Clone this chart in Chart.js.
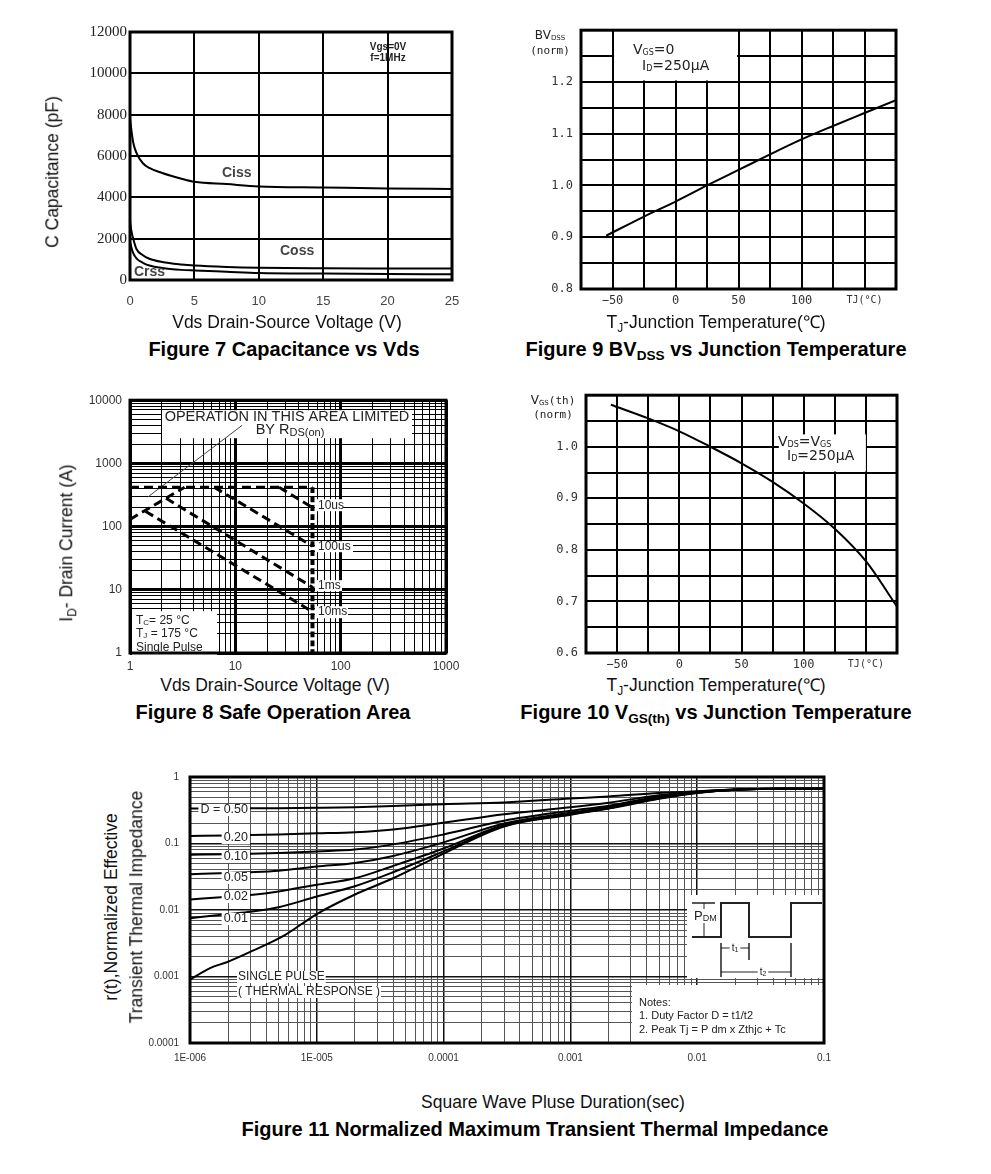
<!DOCTYPE html>
<html>
<head>
<meta charset="utf-8">
<script src="https://cdn.jsdelivr.net/npm/chart.js@4.4.1/dist/chart.umd.min.js"></script>
<style>
  body { margin: 0; background: #fff; width: 991px; height: 1174px; position: relative; overflow: hidden;
         font-family: "Liberation Sans", Arial, sans-serif; color: #000; }
  canvas { position: absolute; }
  .t { position: absolute; white-space: nowrap; line-height: 1; }
  .fig { font-weight: bold; font-size: 20px; transform: translateX(-50%); }
  .ax { font-size: 17.5px; transform: translateX(-50%); color: #111; }
  .rot { font-size: 17.5px; transform: translate(-50%, -50%) rotate(-90deg); color: #111; }
  sub { font-size: 68%; vertical-align: -0.3em; line-height: 0; }
</style>
</head>
<body>
<canvas id="c7"></canvas>
<canvas id="c9"></canvas>
<canvas id="c8"></canvas>
<canvas id="c10"></canvas>
<canvas id="c11"></canvas>

<div class="t fig" style="left:284px;top:339px">Figure 7 Capacitance vs Vds</div>
<div class="t fig" style="left:716px;top:339px">Figure 9 BV<sub>DSS</sub> vs Junction Temperature</div>
<div class="t fig" style="left:273px;top:702px">Figure 8 Safe Operation Area</div>
<div class="t fig" style="left:716px;top:702px">Figure 10 V<sub>GS(th)</sub> vs Junction Temperature</div>
<div class="t fig" style="left:535px;top:1119px">Figure 11 Normalized Maximum Transient Thermal Impedance</div>

<div class="t ax" style="left:287px;top:314px">Vds Drain-Source Voltage (V)</div>
<div class="t ax" style="left:716px;top:314px">T<sub>J</sub>-Junction Temperature(℃)</div>
<div class="t ax" style="left:275px;top:677px">Vds Drain-Source Voltage (V)</div>
<div class="t ax" style="left:716px;top:677px">T<sub>J</sub>-Junction Temperature(℃)</div>
<div class="t ax" style="left:553px;top:1094px">Square Wave Pluse Duration(sec)</div>

<div class="t rot" style="left:53px;top:172px">C Capacitance (pF)</div>
<div class="t rot" style="left:67px;top:543px">I<sub>D</sub>- Drain Current (A)</div>
<div class="t rot" style="left:112px;top:907px">r(t),Normalized Effective</div>
<div class="t rot" style="left:137px;top:907px">Transient Thermal Impedance</div>

<script>
// ---------- data ----------
// Fig 7: capacitance vs Vds
const capV = [0, 0.1, 0.25, 0.5, 1, 1.5, 2.5, 4, 5, 7.5, 10, 15, 20, 25];
const ciss = [7800, 7300, 6650, 6150, 5650, 5420, 5180, 4900, 4750, 4640, 4530, 4480, 4430, 4400];
const coss = [2850, 2400, 2000, 1500, 1200, 1030, 870, 750, 700, 630, 590, 565, 560, 560];
const crss = [1850, 1600, 1300, 1050, 830, 700, 580, 490, 460, 400, 340, 310, 290, 280];

// Fig 8: safe operating area (V, A)
const soaRdsV = [1, 3.3],      soaRdsI = [130, 420];
const soaTopV = [1, 54],       soaTopI = [420, 420];
const soaEdgeV = [54, 54],     soaEdgeI = [420, 1];
const soa10usV = [26, 54],     soa10usI = [420, 200];
const soa100usV = [6.3, 54],   soa100usI = [420, 49];
const soa1msV = [2.2, 54],     soa1msI = [280, 11];
const soa10msV = [1.4, 54],    soa10msI = [175, 4.5];
const soaPointerV = [1.48, 11.6], soaPointerI = [295, 4000];
const soaXLabels = ['1', '10', '100', '1000'];
const soaYLabels = ['1', '10', '100', '1000', '10000'];

// Fig 9 / Fig 10: normalised values vs junction temperature
const tempC = [-55, -25, 0, 25, 50, 75, 100, 125, 150, 175];
const bvdssNorm = [0.903, 0.94, 0.969, 1.0, 1.03, 1.06, 1.089, 1.115, 1.14, 1.165];
const vthNorm = [1.0815, 1.055, 1.03, 1.0, 0.968, 0.932, 0.89, 0.841, 0.778, 0.69];
const tempXLabels = { '-50': '\u221250', '0': '0', '50': '50', '100': '100', '150': 'TJ(\u00b0C)' };

// Fig 11: transient thermal impedance
const thermT = [1e-6, 2e-6, 3e-6, 5e-6, 1e-5, 2e-5, 4e-5, 1e-4, 3e-4, 1e-3, 2e-3, 5e-3, 1e-2, 2e-2, 5e-2, 1e-1];
const zthD50 = [0.337, 0.337, 0.338, 0.34, 0.345, 0.352, 0.365, 0.39, 0.415, 0.475, 0.51, 0.575, 0.61, 0.65, 0.665, 0.665];
const zthD20 = [0.130, 0.132, 0.134, 0.137, 0.142, 0.148, 0.163, 0.205, 0.275, 0.35, 0.41, 0.53, 0.6, 0.65, 0.665, 0.665];
const zthD10 = [0.068, 0.069, 0.07, 0.072, 0.076, 0.081, 0.097, 0.137, 0.22, 0.31, 0.37, 0.51, 0.595, 0.648, 0.665, 0.665];
const zthD05 = [0.0346, 0.036, 0.037, 0.039, 0.045, 0.051, 0.065, 0.104, 0.2, 0.29, 0.355, 0.5, 0.59, 0.645, 0.665, 0.665];
const zthD02 = [0.0144, 0.0158, 0.0168, 0.019, 0.024, 0.030, 0.046, 0.084, 0.19, 0.28, 0.345, 0.49, 0.585, 0.645, 0.665, 0.665];
const zthD01 = [0.0075, 0.0087, 0.0094, 0.011, 0.016, 0.0228, 0.037, 0.076, 0.185, 0.275, 0.34, 0.48, 0.58, 0.645, 0.665, 0.665];
const singleT = [1e-6, 1.44e-6, 1.95e-6, 3.06e-6, 5.6e-6, 1e-5, 2e-5, 4e-5, 1e-4, 3e-4, 1e-3, 2e-3, 5e-3, 1e-2, 2e-2, 5e-2, 1e-1];
const zthSingle = [0.0009, 0.00134, 0.00164, 0.0024, 0.0042, 0.0087, 0.0171, 0.030, 0.0706, 0.18, 0.27, 0.335, 0.47, 0.575, 0.645, 0.665, 0.665];
const thermXLabels = ['1E-006', '1E-005', '0.0001', '0.001', '0.01', '0.1'];
const thermYLabels = ['0.0001', '0.001', '0.01', '0.1', '1'];

// ---------- helpers ----------
const SANS = '"Liberation Sans", Arial, sans-serif';
const MONO = '"DejaVu Sans Mono", monospace';
const DJV = '"DejaVu Sans", sans-serif';
Chart.defaults.font.family = SANS;

const pts = (xs, ys) => xs.map((x, i) => ({ x, y: ys[i] }));
const isDecade = v => Math.abs(Math.log10(v) - Math.round(Math.log10(v))) < 1e-9;

function logTicks(min, max) {
  const out = [];
  for (let e = Math.round(Math.log10(min)); e < Math.round(Math.log10(max)); e++) {
    for (let m = 1; m < 10; m++) out.push({ value: m * Math.pow(10, e) });
  }
  out.push({ value: max });
  return out;
}

function P(t, size, dy, family, bold) {
  return { t, f: (bold ? 'bold ' : '') + size + 'px ' + (family || SANS), dy: dy || 0 };
}

// draws a run of text pieces (for subscripts); bg = [padX, halfH] paints white behind it
function rich(ctx, x, y, parts, align, color, bg) {
  ctx.textBaseline = 'middle';
  ctx.textAlign = 'left';
  let w = 0;
  parts.forEach(p => { ctx.font = p.f; w += ctx.measureText(p.t).width; });
  let cx = align === 'center' ? x - w / 2 : align === 'right' ? x - w : x;
  if (bg) {
    ctx.fillStyle = '#fff';
    ctx.fillRect(cx - bg[0], y - bg[1], w + 2 * bg[0], 2 * bg[1]);
  }
  ctx.fillStyle = color || '#222';
  parts.forEach(p => {
    ctx.font = p.f;
    ctx.fillText(p.t, cx, y + p.dy);
    cx += ctx.measureText(p.t).width;
  });
}

function line(ctx, x1, y1, x2, y2, w) {
  ctx.lineWidth = w || 1;
  ctx.beginPath(); ctx.moveTo(x1, y1); ctx.lineTo(x2, y2); ctx.stroke();
}

// plugin: white boxes over the grid, frame, then labels on top of the curves
function deco(frameW, under, over) {
  return {
    id: 'deco',
    beforeDatasetsDraw(chart) {
      const { ctx, chartArea: a } = chart;
      ctx.save();
      if (under) under(ctx, a, chart);
      ctx.strokeStyle = '#000';
      ctx.lineWidth = frameW;
      ctx.strokeRect(a.left, a.top, a.right - a.left, a.bottom - a.top);
      ctx.restore();
    },
    afterDatasetsDraw(chart) {
      if (!over) return;
      const { ctx, chartArea: a } = chart;
      ctx.save();
      over(ctx, a, chart);
      ctx.restore();
    }
  };
}

function makeChart(id, box, area, cfg) {
  const cv = document.getElementById(id);
  cv.width = box.w; cv.height = box.h;
  cv.style.left = box.x + 'px'; cv.style.top = box.y + 'px';
  cv.style.width = box.w + 'px'; cv.style.height = box.h + 'px';
  const o = cfg.options;
  o.responsive = false;
  o.animation = false;
  o.layout = { padding: { left: 0, top: area.t - box.y, right: box.x + box.w - area.r, bottom: 0 } };
  o.plugins = { legend: { display: false }, tooltip: { enabled: false } };
  o.scales.x.afterFit = s => { s.height = box.y + box.h - area.b; };
  o.scales.y.afterFit = s => { s.width = area.l - box.x; };
  o.scales.x.border = { display: false };
  o.scales.y.border = { display: false };
  return new Chart(cv, cfg);
}

function curve(data, extra) {
  return Object.assign({ data, showLine: true, borderColor: '#000', borderWidth: 2, pointRadius: 0,
    fill: false, cubicInterpolationMode: 'monotone' }, extra || {});
}

// ---------- Fig 7 ----------
makeChart('c7', { x: 40, y: 15, w: 440, h: 305 }, { l: 130, t: 32, r: 452, b: 280 }, {
  type: 'scatter',
  data: { datasets: [curve(pts(capV, ciss)), curve(pts(capV, coss)), curve(pts(capV, crss))] },
  options: {
    scales: {
      x: { type: 'linear', min: 0, max: 25,
           ticks: { stepSize: 5, padding: 14, color: '#444', font: { size: 13 }, autoSkip: false },
           grid: { color: '#000', lineWidth: 2, drawTicks: false } },
      y: { type: 'linear', min: 0, max: 12000,
           ticks: { stepSize: 2000, padding: 3, color: '#222', font: { family: '"Liberation Serif", serif', size: 15 },
                    callback: v => String(v) },
           grid: { color: '#000', lineWidth: 2, drawTicks: false } }
    }
  },
  plugins: [deco(3, null, (ctx, a) => {
    rich(ctx, a.left + 92, a.top + 141, [P('Ciss', 14, 0, SANS, true)], 'left', '#444');
    rich(ctx, a.left + 150, a.top + 219, [P('Coss', 14, 0, SANS, true)], 'left', '#444');
    rich(ctx, a.left + 4, a.top + 240, [P('Crss', 14, 0, SANS, true)], 'left', '#444');
    rich(ctx, a.left + 258, a.top + 15, [P('Vgs=0V', 10, 0, SANS, true)], 'center', '#222');
    rich(ctx, a.left + 258, a.top + 26, [P('f=1MHz', 10, 0, SANS, true)], 'center', '#222');
  })]
});

// ---------- Fig 9 / Fig 10 shared axes ----------
function tempScales(ymin, ymax, ylabelMax) {
  return {
    x: { type: 'linear', min: -75, max: 175,
         ticks: { stepSize: 25, padding: 5, color: '#333', autoSkip: false, maxRotation: 0,
                  font: c => ({ family: MONO, size: c.tick && c.tick.value === 150 ? 10 : 12 }),
                  callback: v => tempXLabels[String(Math.round(v))] || '' },
         grid: { color: '#000', lineWidth: 2, drawTicks: false } },
    y: { type: 'linear', min: ymin, max: ymax,
         ticks: { stepSize: 0.05, padding: 8, color: '#333', autoSkip: false, font: { family: MONO, size: 12 },
                  callback: v => { const k = Math.round(v * 100); return (k % 10 === 0 && k <= ylabelMax) ? (k / 100).toFixed(1) : ''; } },
         grid: { color: '#000', lineWidth: 2, drawTicks: false } }
  };
}

makeChart('c9', { x: 500, y: 15, w: 420, h: 300 }, { l: 581, t: 27, r: 896, b: 289 }, {
  type: 'scatter',
  data: { datasets: [curve(pts(tempC, bvdssNorm))] },
  options: { scales: tempScales(0.8, 1.3, 120) },
  plugins: [deco(3, (ctx, a, ch) => {
    const xs = ch.scales.x, ys = ch.scales.y;
    const x1 = xs.getPixelForValue(-50) + 1.5, x2 = xs.getPixelForValue(50) - 1.5;
    const y1 = ys.getPixelForValue(1.3), y2 = ys.getPixelForValue(1.2) - 1.5;
    ctx.fillStyle = '#fff';
    ctx.fillRect(x1, y1, x2 - x1, y2 - y1);
  }, (ctx, a) => {
    rich(ctx, a.left + 52, a.top + 20, [P('V', 14, 0, DJV), P('GS', 8, 3, DJV), P('=0', 14, 0, DJV)], 'left', '#222');
    rich(ctx, a.left + 61, a.top + 36, [P('I', 14, 0, DJV), P('D', 8, 3, DJV), P('=250\u03bcA', 14, 0, DJV)], 'left', '#222');
    rich(ctx, a.left - 31, a.top + 6, [P('BV', 12, 0, DJV), P('DSS', 7, 2, DJV)], 'center', '#222');
    rich(ctx, a.left - 31, a.top + 21, [P('(norm)', 11, 0, MONO)], 'center', '#222');
  })]
});

makeChart('c10', { x: 500, y: 380, w: 420, h: 295 }, { l: 586, t: 392, r: 897, b: 653 }, {
  type: 'scatter',
  data: { datasets: [curve(pts(tempC, vthNorm))] },
  options: { scales: tempScales(0.6, 1.1, 100) },
  plugins: [deco(3, (ctx, a, ch) => {
    const xs = ch.scales.x, ys = ch.scales.y;
    const x1 = xs.getPixelForValue(80), x2 = xs.getPixelForValue(150);
    const y1 = ys.getPixelForValue(1.024), y2 = ys.getPixelForValue(0.952);
    ctx.fillStyle = '#fff';
    ctx.fillRect(x1, y1, x2 - x1, y2 - y1);
  }, (ctx, a) => {
    rich(ctx, a.left + 192, a.top + 47, [P('V', 14, 0, DJV), P('DS', 8, 3, DJV), P('=V', 14, 0, DJV), P('GS', 8, 3, DJV)], 'left', '#222');
    rich(ctx, a.left + 201, a.top + 61, [P('I', 14, 0, DJV), P('D', 8, 3, DJV), P('=250\u03bcA', 14, 0, DJV)], 'left', '#222');
    rich(ctx, a.left - 33, a.top + 6, [P('V', 12, 0, DJV), P('GS', 7, 2, DJV), P('(th)', 11, 0, MONO)], 'center', '#222');
    rich(ctx, a.left - 33, a.top + 20, [P('(norm)', 11, 0, MONO)], 'center', '#222');
  })]
});

// ---------- Fig 8 ----------
function logAxis(min, max, labels, font, pad, decW, minW, decC, minC) {
  return {
    type: 'logarithmic', min, max,
    afterBuildTicks: s => { s.ticks = logTicks(min, max); },
    ticks: { autoSkip: false, maxRotation: 0, padding: pad, color: '#333', font,
             callback: v => isDecade(v) ? labels[Math.round(Math.log10(v)) - Math.round(Math.log10(min))] : '' },
    grid: { drawTicks: false,
            color: c => (c.tick && isDecade(c.tick.value)) ? decC : minC,
            lineWidth: c => (c.tick && isDecade(c.tick.value)) ? decW : minW }
  };
}

const dash = { borderWidth: 3, borderDash: [9, 5], cubicInterpolationMode: 'default' };
makeChart('c8', { x: 40, y: 385, w: 430, h: 290 }, { l: 130, t: 396, r: 446, b: 653 }, {
  type: 'scatter',
  data: { datasets: [
    curve(pts(soaTopV, soaTopI), dash),
    curve(pts(soaRdsV, soaRdsI), dash),
    curve(pts(soa10usV, soa10usI), dash),
    curve(pts(soa100usV, soa100usI), dash),
    curve(pts(soa1msV, soa1msI), dash),
    curve(pts(soa10msV, soa10msI), dash),
    curve(pts(soaEdgeV, soaEdgeI), { borderWidth: 4, borderDash: [6, 3] }),
    curve(pts(soaPointerV, soaPointerI), { borderWidth: 1, borderColor: '#444' })
  ] },
  options: {
    scales: {
      x: logAxis(1, 1000, soaXLabels, { size: 12 }, 6, 3, 1, '#000', '#000'),
      y: logAxis(1, 10000, soaYLabels, { size: 12 }, 8, 3, 1, '#000', '#000')
    }
  },
  plugins: [deco(3, (ctx, a) => {
    ctx.fillStyle = '#fff';
    ctx.fillRect(a.left + 32, a.top + 10, 250, 28);
    ctx.fillRect(a.left + 2, a.top + 211, 85, 45);
    ctx.fillRect(a.left + 185, a.top + 99, 28, 12);
    ctx.fillRect(a.left + 185, a.top + 141, 38, 11);
    ctx.fillRect(a.left + 185, a.top + 180, 27, 11);
    ctx.fillRect(a.left + 185, a.top + 206, 33, 12);
  }, (ctx, a) => {
    rich(ctx, a.left + 157, a.top + 17, [P('OPERATION IN THIS AREA LIMITED', 14.5)], 'center', '#222');
    rich(ctx, a.left + 160, a.top + 30, [P('BY R', 14.5), P('DS(on)', 11, 3)], 'center', '#222');
    rich(ctx, a.left + 188, a.top + 105, [P('10us', 12)], 'left', '#222');
    rich(ctx, a.left + 188, a.top + 146, [P('100us', 12)], 'left', '#222');
    rich(ctx, a.left + 188, a.top + 185, [P('1ms', 12)], 'left', '#222');
    rich(ctx, a.left + 188, a.top + 211, [P('10ms', 12)], 'left', '#222');
    rich(ctx, a.left + 6, a.top + 220, [P('T', 12), P('C', 8, 3), P('= 25 \u00b0C', 12)], 'left', '#222');
    rich(ctx, a.left + 6, a.top + 233, [P('T', 12), P('J', 8, 3), P(' = 175 \u00b0C', 12)], 'left', '#222');
    rich(ctx, a.left + 6, a.top + 247, [P('Single Pulse', 12)], 'left', '#222');
  })]
});

// ---------- Fig 11 ----------
makeChart('c11', { x: 140, y: 760, w: 710, h: 310 }, { l: 190, t: 772, r: 824, b: 1043 }, {
  type: 'scatter',
  data: { datasets: [
    curve(pts(thermT, zthD50)), curve(pts(thermT, zthD20)), curve(pts(thermT, zthD10)),
    curve(pts(thermT, zthD05)), curve(pts(thermT, zthD02)), curve(pts(thermT, zthD01)),
    curve(pts(singleT, zthSingle))
  ] },
  options: {
    scales: {
      x: logAxis(1e-6, 0.1, thermXLabels, { size: 10 }, 9, 1.5, 1, '#111', '#555'),
      y: logAxis(1e-4, 1, thermYLabels, { size: 10 }, 11, 1.5, 1, '#111', '#555')
    }
  },
  plugins: [deco(3, (ctx, a) => {
    const L = a.left, T = a.top;
    ctx.fillStyle = '#fff';
    ctx.fillRect(L + 497, T + 118, 136, 83);
    ctx.fillRect(L + 442, T + 208, 191, 62);
    // pulse sketch
    ctx.strokeStyle = '#222';
    ctx.lineWidth = 2;
    ctx.beginPath();
    ctx.moveTo(L + 502, T + 160); ctx.lineTo(L + 531, T + 160); ctx.lineTo(L + 531, T + 126);
    ctx.lineTo(L + 559, T + 126); ctx.lineTo(L + 559, T + 160); ctx.lineTo(L + 601, T + 160);
    ctx.lineTo(L + 601, T + 126); ctx.lineTo(L + 632, T + 126);
    ctx.stroke();
    line(ctx, L + 502, T + 126, L + 525, T + 126, 1.5);
    line(ctx, L + 514, T + 126, L + 514, T + 160, 1);
    line(ctx, L + 531, T + 166, L + 531, T + 200, 1.5);
    line(ctx, L + 559, T + 166, L + 559, T + 183, 1.5);
    line(ctx, L + 601, T + 166, L + 601, T + 200, 1.5);
    line(ctx, L + 531, T + 171, L + 559, T + 171, 1);
    line(ctx, L + 531, T + 195, L + 601, T + 195, 1);
    rich(ctx, L + 504, T + 139, [P('P', 13), P('DM', 9, 3)], 'left', '#222', [0, 7]);
    rich(ctx, L + 545, T + 171, [P('t', 10), P('1', 7, 2)], 'center', '#222', [2, 5]);
    rich(ctx, L + 573, T + 195, [P('t', 10), P('2', 7, 2)], 'center', '#222', [2, 5]);
    rich(ctx, L + 449, T + 226, [P('Notes:', 11)], 'left', '#222');
    rich(ctx, L + 449, T + 239, [P('1. Duty Factor D = t1/t2', 11)], 'left', '#222');
    rich(ctx, L + 449, T + 253, [P('2. Peak Tj = P dm x Zthjc + Tc', 11)], 'left', '#222');
  }, (ctx, a) => {
    const L = a.left, T = a.top;
    rich(ctx, L + 58, T + 33, [P('D = 0.50', 12.5)], 'right', '#222', [2, 6]);
    rich(ctx, L + 58, T + 61, [P('0.20', 12.5)], 'right', '#222', [2, 6]);
    rich(ctx, L + 58, T + 80, [P('0.10', 12.5)], 'right', '#222', [2, 6]);
    rich(ctx, L + 58, T + 101, [P('0.05', 12.5)], 'right', '#222', [2, 6]);
    rich(ctx, L + 58, T + 120, [P('0.02', 12.5)], 'right', '#222', [2, 6]);
    rich(ctx, L + 58, T + 142, [P('0.01', 12.5)], 'right', '#222', [2, 6]);
    rich(ctx, L + 48, T + 200, [P('SINGLE PULSE', 12)], 'left', '#222', [1, 6]);
    rich(ctx, L + 48, T + 215, [P('( THERMAL RESPONSE )', 12)], 'left', '#222', [1, 6]);
  })]
});
</script>
</body>
</html>
